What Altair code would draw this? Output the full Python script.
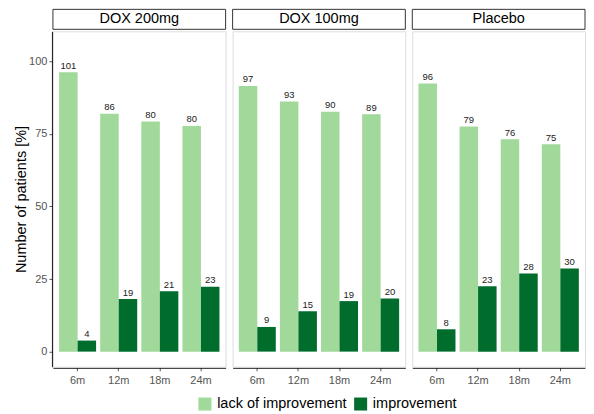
import altair as alt
import pandas as pd

groups = ["DOX 200mg", "DOX 100mg", "Placebo"]
times = ["6m", "12m", "18m", "24m"]
statuses = ["lack of improvement", "improvement"]

# percentages, counts from the bar labels
lack_pct = {
    "DOX 200mg": [96.2, 81.9, 79.2, 77.7],
    "DOX 100mg": [91.5, 86.1, 82.6, 81.7],
    "Placebo": [92.3, 77.5, 73.1, 71.4],
}
impr_pct = {
    "DOX 200mg": [3.8, 18.1, 20.8, 22.3],
    "DOX 100mg": [8.5, 13.9, 17.4, 18.3],
    "Placebo": [7.7, 22.5, 26.9, 28.6],
}
lack_n = {
    "DOX 200mg": [101, 86, 80, 80],
    "DOX 100mg": [97, 93, 90, 89],
    "Placebo": [96, 79, 76, 75],
}
impr_n = {
    "DOX 200mg": [4, 19, 21, 23],
    "DOX 100mg": [9, 15, 19, 20],
    "Placebo": [8, 23, 28, 30],
}

rows = []
for g in groups:
    for i, t in enumerate(times):
        rows.append(dict(group=g, time=t, status=statuses[0], pct=lack_pct[g][i], n=lack_n[g][i]))
        rows.append(dict(group=g, time=t, status=statuses[1], pct=impr_pct[g][i], n=impr_n[g][i]))
df = pd.DataFrame(rows)

W = 173
H = 336
FONT = "Liberation Sans"

x_scale = alt.Scale(paddingInner=0.1, paddingOuter=0.15)
x_enc = alt.X("time:N", sort=times, title=None, scale=x_scale,
              axis=alt.Axis(labelAngle=0, labelFontSize=11, labelColor="#555555",
                            domainColor="#000000", tickColor="#555555", tickSize=3,
                            labelPadding=4))
y_scale = alt.Scale(domain=[-5.2, 110.3], zero=False, nice=False)
y_enc = alt.Y("pct:Q", scale=y_scale, title="Number of patients [%]",
              axis=alt.Axis(values=[0, 25, 50, 75, 100], grid=False, labelFontSize=11,
                            labelColor="#555555", domainColor="#000000", tickColor="#555555",
                            tickSize=3, titleFontSize=14.5, titleFontWeight="normal",
                            titleColor="#000000", titlePadding=0))

color_enc = alt.Color("status:N", sort=statuses,
                      scale=alt.Scale(domain=statuses, range=["#a1d99b", "#006d2c"]),
                      legend=alt.Legend(title=None, orient="none", direction="horizontal",
                                        legendX=145, legendY=H + 30,
                                        symbolType="square", symbolSize=170, symbolStrokeWidth=0,
                                        labelFontSize=14.5, labelColor="#000000", columnPadding=6,
                                        labelOffset=5))

xoff = alt.XOffset("status:N", sort=statuses)

bars = alt.Chart().mark_bar().encode(
    x=x_enc,
    xOffset=xoff,
    y=y_enc,
    y2=alt.datum(0),
    color=color_enc,
)

labels = alt.Chart().mark_text(baseline="bottom", dy=-1.5, fontSize=9.5, color="#222222", font=FONT).encode(
    x=alt.X("time:N", sort=times, scale=x_scale),
    xOffset=xoff,
    y=alt.Y("pct:Q", scale=y_scale),
    text="n:Q",
)

first = (alt.datum.time == "6m") & (alt.datum.status == statuses[0])
strip_box = alt.Chart().mark_rect(fill="white", stroke="#333333", strokeWidth=1).encode(
    x=alt.value(0), x2=alt.value(W), y=alt.value(-22), y2=alt.value(-2)
).transform_filter(first)
strip_text = alt.Chart().mark_text(fontSize=14.5, color="#000000", baseline="middle", font=FONT).encode(
    x=alt.value(W / 2), y=alt.value(-12), text="group:N"
).transform_filter(first)

chart = alt.layer(bars, labels, strip_box, strip_text, data=df).properties(
    width=W, height=H
).facet(
    column=alt.Column("group:N", sort=groups, title=None,
                      header=alt.Header(title=None, labels=False, labelPadding=0, titlePadding=0)),
    spacing=5,
).configure_view(
    stroke="transparent", strokeWidth=0
).configure(
    font=FONT, padding={"left": 5, "top": 0, "right": 0, "bottom": 0}
)

chart.save("out.html", embed_options={"renderer": "svg", "actions": False})
